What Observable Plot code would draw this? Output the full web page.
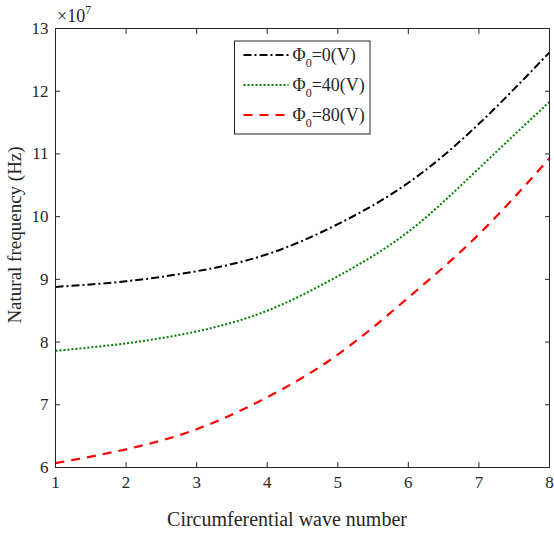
<!DOCTYPE html>
<html>
<head>
<meta charset="utf-8">
<script src="https://cdn.jsdelivr.net/npm/d3@7"></script>
<script src="https://cdn.jsdelivr.net/npm/@observablehq/plot@0.6"></script>
<style>
  html, body { margin: 0; padding: 0; background: #fff; }
  #chart { position: relative; width: 554px; height: 533px; }
  #chart svg { font-family: "Liberation Serif", "Times New Roman", serif; }
  #chart svg g[aria-label$="tick label"] text { font-size: 17px; }
</style>
</head>
<body>
<div id="chart"></div>
<script>
// Circumferential wave number
const waveNumbers = [1, 2, 3, 4, 5, 6, 7, 8];
// Natural frequency (×10^7 Hz)
const phi0 = [8.88, 8.97, 9.13, 9.40, 9.88, 10.54, 11.48, 12.62];
const phi40 = [7.86, 7.98, 8.17, 8.50, 9.05, 9.76, 10.77, 11.83];
const phi80 = [6.07, 6.29, 6.61, 7.12, 7.80, 8.71, 9.72, 10.93];
const seriesNames = ["0", "40", "80"];
const xTicks = [1, 2, 3, 4, 5, 6, 7, 8];
const yTicks = [6, 7, 8, 9, 10, 11, 12, 13];
const xLabel = "Circumferential wave number";
const yLabel = "Natural frequency (Hz)";

const styles = [
  {stroke: "#000000", dash: "8,3,2,3", width: 2},
  {stroke: "#008000", dash: "2,2", width: 2},
  {stroke: "#ff0000", dash: "9,7", width: 2.2}
];
const allSeries = [phi0, phi40, phi80];

const rows = [];
allSeries.forEach((vals, s) => vals.forEach((v, i) => rows.push({series: s, n: waveNumbers[i], f: v})));

const axisColor = "#262626";
const fontFam = "Liberation Serif, Times New Roman, serif";
const lineMarks = allSeries.map((vals, s) =>
  Plot.line(rows.filter(r => r.series === s), {
    x: "n", y: "f", curve: "natural",
    stroke: styles[s].stroke, strokeWidth: styles[s].width,
    strokeDasharray: styles[s].dash, strokeLinecap: "butt"
  })
);

const chart = Plot.plot({
  width: 554,
  height: 533,
  marginLeft: 55,
  marginRight: 5,
  marginTop: 28,
  marginBottom: 66,
  style: {fontFamily: fontFam, fontSize: "17px", color: axisColor, background: "#fff"},
  x: {domain: [1, 8]},
  y: {domain: [6, 13]},
  marks: [
    ...lineMarks,
    Plot.frame({stroke: axisColor, strokeWidth: 1}),
    Plot.axisX(xTicks, {anchor: "bottom", tickSize: -5, tickPadding: 13, tickFormat: d => String(d), label: null, stroke: axisColor, fill: axisColor}),
    Plot.axisX(xTicks, {anchor: "top", tickSize: -5, tickFormat: () => "", label: null, stroke: axisColor}),
    Plot.axisY(yTicks, {anchor: "left", tickSize: -5, tickPadding: 12, tickFormat: d => String(d), label: null, stroke: axisColor, fill: axisColor}),
    Plot.axisY(yTicks, {anchor: "right", tickSize: -5, tickFormat: () => "", label: null, stroke: axisColor})
  ]
});

document.getElementById("chart").appendChild(chart);

const svg = d3.select(chart);
const xs = d3.scaleLinear().domain([1, 8]).range([55, 549]);

// axis titles
svg.append("text")
  .attr("x", 287).attr("y", 526)
  .attr("text-anchor", "middle").attr("fill", axisColor)
  .attr("style", `font-family:${fontFam};font-size:20px`)
  .text(xLabel);
svg.append("text")
  .attr("transform", `translate(21,235) rotate(-90)`)
  .attr("text-anchor", "middle").attr("fill", axisColor)
  .attr("style", `font-family:${fontFam};font-size:19px`)
  .text(yLabel);

// place a sequence of text pieces one after another, measuring each
function richText(parent, x, y, parts) {
  let cx = x;
  parts.forEach(p => {
    const t = parent.append("text")
      .attr("x", cx).attr("y", y + (p.dy || 0))
      .attr("text-anchor", "start")
      .attr("fill", axisColor)
      .attr("style", `font-family:${fontFam};font-size:${p.size}px`)
      .text(p.text);
    cx += t.node().getComputedTextLength() + (p.gap || 0);
  });
}

richText(svg, xs(1) + 2, 22, [
  {text: "×10", size: 18},
  {text: "7", size: 12, dy: -8}
]);

const lg = svg.append("g").attr("transform", "translate(234.5,41)");
lg.append("rect").attr("width", 135.5).attr("height", 93).attr("fill", "#fff").attr("stroke", axisColor).attr("stroke-width", 1);
seriesNames.forEach((name, i) => {
  const cy = 14 + i * 30;
  lg.append("line").attr("x1", 9).attr("x2", 54).attr("y1", cy).attr("y2", cy)
    .attr("stroke", styles[i].stroke).attr("stroke-width", styles[i].width)
    .attr("stroke-dasharray", styles[i].dash);
  richText(lg, 58, cy + 6, [
    {text: "Φ", size: 18},
    {text: "0", size: 12, dy: 6},
    {text: "=" + name + "(V)", size: 18}
  ]);
});
</script>
</body>
</html>
